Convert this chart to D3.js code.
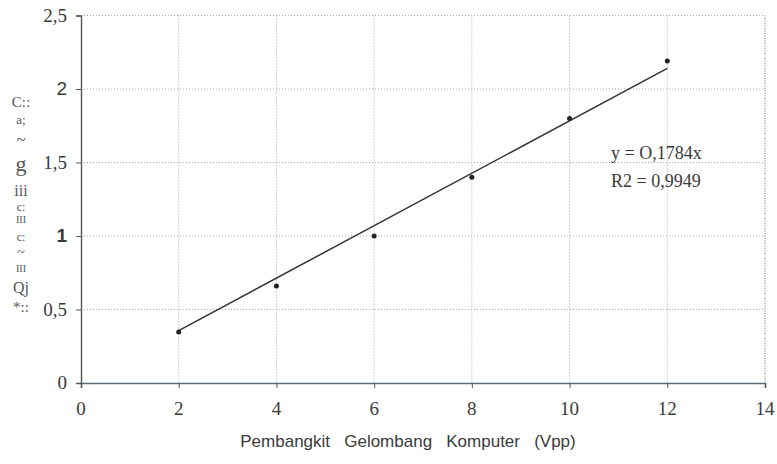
<!DOCTYPE html>
<html>
<head>
<meta charset="utf-8">
<script src="https://cdn.jsdelivr.net/npm/d3@7"></script>
<style>
  html, body { margin: 0; padding: 0; background: #fff; }
  svg { display: block; }
</style>
</head>
<body>
<svg id="chart" width="777" height="464"></svg>
<script>
// Measured output (Vpp) against the computer wave generator setting
const xValues = [2, 4, 6, 8, 10, 12];
const yValues = [0.347, 0.66, 1.0, 1.40, 1.80, 2.19];
const slope = 0.1784;
const xTicks = [0, 2, 4, 6, 8, 10, 12, 14];
const yTicks = [0, 0.5, 1, 1.5, 2, 2.5];
const yTickLabels = ["0", "0,5", "1", "1,5", "2", "2,5"];
const equationLines = ["y = O,1784x", "R2 = 0,9949"];
const yTitleGlyphs = ["C::", "a;", "~", "g", "iii", "c:", "III", "c:", "~", "III", "Qj", "*::"];
const xTitle = "Pembangkit   Gelombang   Komputer   (Vpp)";

(function () {
  const svg = d3.select("#chart");
  const plotLeft = 81, plotRight = 765, plotTop = 15.5, plotBottom = 383;

  const x = d3.scaleLinear().domain([0, 14]).range([plotLeft, plotRight]);
  const y = d3.scaleLinear().domain([0, 2.5]).range([plotBottom, plotTop]);

  const serif = "'Liberation Serif', 'DejaVu Serif', serif";
  const sans = "'Liberation Sans', Arial, sans-serif";
  const ink = "#3a3a3a";

  // dotted grid
  const grid = svg.append("g").attr("stroke", "#a8a8a8").attr("stroke-width", 1)
    .attr("stroke-dasharray", "1,2");
  grid.selectAll("line.v").data(xTicks.filter(d => d > 0 && d < 14)).join("line").attr("class", "v")
    .attr("x1", d => x(d)).attr("x2", d => x(d))
    .attr("y1", plotTop).attr("y2", plotBottom);
  grid.selectAll("line.h").data(yTicks.filter(d => d > 0)).join("line").attr("class", "h")
    .attr("x1", plotLeft).attr("x2", plotRight)
    .attr("y1", d => y(d)).attr("y2", d => y(d));
  // right border a little darker
  svg.append("line").attr("x1", plotRight).attr("x2", plotRight)
    .attr("y1", plotTop).attr("y2", plotBottom)
    .attr("stroke", "#666").attr("stroke-dasharray", "1,1.5");

  // axes
  const xAxis = d3.axisBottom(x).tickValues(xTicks).tickSize(5).tickFormat(() => "");
  const gx = svg.append("g").attr("transform", `translate(0,${plotBottom})`).call(xAxis);
  gx.select(".domain").attr("stroke", "#5a6b7a").attr("stroke-width", 1.6);
  gx.selectAll(".tick line").attr("stroke", "#555");

  const yAxis = d3.axisLeft(y).tickValues(yTicks).tickSize(5).tickFormat(() => "");
  const gy = svg.append("g").attr("transform", `translate(${plotLeft},0)`).call(yAxis);
  gy.select(".domain").attr("stroke", "#555").attr("stroke-width", 1.4);
  gy.selectAll(".tick line").attr("stroke", "#555");

  // tick labels
  svg.append("g").selectAll("text").data(xTicks).join("text")
    .attr("x", d => x(d)).attr("y", 415)
    .attr("text-anchor", "middle")
    .attr("font-family", serif).attr("font-size", 19).attr("fill", ink)
    .text(d => d);

  svg.append("g").selectAll("text").data(yTicks).join("text")
    .attr("x", plotLeft - 14).attr("y", d => y(d) + 6)
    .attr("text-anchor", "end")
    .attr("font-family", d => (d === 1 || d === 2) ? sans : serif)
    .attr("font-weight", d => d === 1 ? "bold" : "normal")
    .attr("font-size", 19).attr("fill", ink)
    .text((d, i) => yTickLabels[i]);

  // trend line over the measured range
  const ext = d3.extent(xValues);
  svg.append("line")
    .attr("x1", x(ext[0])).attr("y1", y(slope * ext[0]))
    .attr("x2", x(ext[1])).attr("y2", y(slope * ext[1]))
    .attr("stroke", "#333").attr("stroke-width", 1.5);

  // data points
  svg.append("g").selectAll("circle").data(xValues).join("circle")
    .attr("cx", d => x(d)).attr("cy", (d, i) => y(yValues[i]))
    .attr("r", 2.5).attr("fill", "#222");

  // regression equation
  svg.append("g").selectAll("text").data(equationLines).join("text")
    .attr("x", 611).attr("y", (d, i) => 159 + i * 28)
    .attr("font-family", serif).attr("font-size", 18).attr("fill", ink)
    .text(d => d);

  // y-axis title
  const glyphY = [107, 124, 145, 171, 196, 211, 223, 241, 257, 272, 293, 312];
  const glyphSize = [15, 13, 17, 22, 16, 12, 10, 12, 14, 10, 16, 15];
  svg.append("g").selectAll("text").data(yTitleGlyphs).join("text")
    .attr("x", 21).attr("y", (d, i) => glyphY[i])
    .attr("text-anchor", "middle")
    .attr("font-family", serif)
    .attr("font-size", (d, i) => glyphSize[i])
    .attr("fill", "#555")
    .text(d => d);

  // x-axis title
  svg.append("text")
    .attr("x", 408).attr("y", 447)
    .attr("text-anchor", "middle")
    .attr("font-family", sans).attr("font-size", 17).attr("fill", ink)
    .style("white-space", "pre")
    .text(xTitle);
})();
</script>
</body>
</html>
